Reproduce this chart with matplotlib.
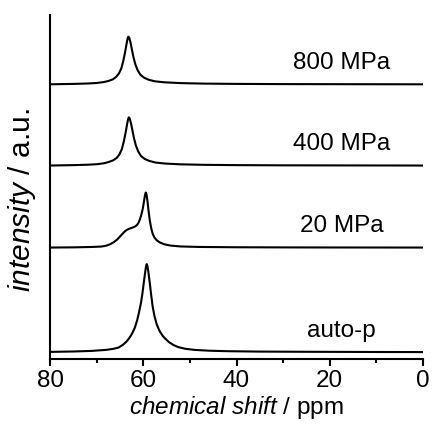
import numpy as np
import matplotlib
matplotlib.use('agg')
import matplotlib.pyplot as plt

plt.rcParams['font.family'] = ['Liberation Sans', 'DejaVu Sans']
plt.rcParams['mathtext.fontset'] = 'custom'
plt.rcParams['mathtext.rm'] = 'Liberation Sans'
plt.rcParams['mathtext.it'] = 'Liberation Sans:italic'

# 13C spectra, (shift in ppm, intensity in a.u. above baseline)
ppm_800 = [80, 75, 72, 70, 68.5, 67.5, 66.5, 65.8, 65.2, 64.7, 64.3, 63.9, 63.6,
           63.35, 63.2, 63.0, 62.7, 62.4, 62.1, 61.7, 61.2, 60.6, 59.8, 58.8,
           57.5, 55.5, 52, 47, 40, 30, 15, 0]
int_800 = [0.0, 0.4, 0.8, 1.3, 2.2, 3.3, 5.0, 7.5, 11, 16, 23, 32, 40,
           46, 47.6, 46.5, 41, 34, 27, 20, 14, 9.5, 6.5, 4.5,
           3.0, 2.0, 1.2, 0.7, 0.4, 0.2, 0.1, 0.0]

ppm_400 = [80, 75, 72, 70, 68.5, 67.5, 66.5, 65.7, 65.1, 64.6, 64.2, 63.8, 63.5,
           63.25, 63.1, 62.9, 62.6, 62.3, 62.0, 61.6, 61.1, 60.5, 59.7, 58.7,
           57.4, 55.4, 52, 47, 40, 30, 15, 0]
int_400 = [0.0, 0.4, 0.8, 1.3, 2.2, 3.4, 5.1, 7.6, 11.2, 16.3, 23.5, 32.5, 40.5,
           46.5, 48.2, 47, 41.5, 34.5, 27.5, 20.3, 14.2, 9.6, 6.6, 4.6,
           3.0, 2.0, 1.2, 0.7, 0.4, 0.2, 0.1, 0.0]

ppm_20 = [80, 75, 71, 69, 68, 67.1, 66.3, 65.6, 65.0, 64.4, 63.8, 63.2, 62.6,
          62.1, 61.7, 61.3, 61.0, 60.7, 60.4, 60.1, 59.85, 59.65, 59.47, 59.3,
          59.1, 58.85, 58.6, 58.3, 58.0, 57.6, 57.1, 56.4, 55.5, 54.2, 52, 48,
          40, 25, 0]
int_20 = [0.0, 0.2, 0.6, 1.0, 1.8, 3.3, 5.5, 8.0, 11, 14, 16.8, 18.5, 19.5,
          20.3, 21.2, 22.8, 25, 28.5, 33, 39, 46, 52, 55, 53,
          46.5, 36, 27, 19.5, 14, 10, 7.2, 5.0, 3.3, 2.0, 1.1, 0.6,
          0.3, 0.1, 0.0]

ppm_auto = [80, 75, 71, 68, 66.5, 65.3, 64.3, 63.6, 63.0, 62.4, 61.8, 61.3,
            60.9, 60.5, 60.2, 59.9, 59.6, 59.4, 59.25, 59.1, 58.9, 58.6, 58.3,
            58.0, 57.6, 57.1, 56.5, 55.8, 55.3, 54.5, 53.5, 52.5, 51, 49, 46,
            42, 35, 25, 10, 0]
int_auto = [0.2, 0.6, 1.2, 2.2, 3.2, 4.5, 7.5, 10.5, 14, 18.5, 24.5, 32,
            40, 49, 58, 69, 79.5, 86, 88, 86, 80, 69, 57,
            46, 36, 27.5, 21, 16, 13.5, 10, 7, 5, 3.3, 2.2, 1.4,
            0.9, 0.5, 0.3, 0.1, 0.0]

labels = ['800 MPa', '400 MPa', '20 MPa', 'auto-p']
spectra = [(ppm_800, int_800), (ppm_400, int_400), (ppm_20, int_20), (ppm_auto, int_auto)]
offsets = [274.7, 193.5, 111.5, 7.0]

fs = 17.5
lw = 1.5

fig = plt.figure(figsize=(4.33, 4.28), dpi=100)
ax = fig.add_axes([0.1155, 0.161, 0.8615, 0.804])

for (x, y), off, lbl in zip(spectra, offsets, labels):
    ax.plot(x, np.array(y) + off, color='k', lw=lw)
    ax.text(17.5, off + 15.5, lbl, fontsize=fs, ha='center', va='baseline')

ax.set_xlim(80, 0)
ax.set_ylim(0, 344)
ax.set_xticks([80, 60, 40, 20, 0])
ax.set_xticks([70, 50, 30, 10], minor=True)
ax.set_yticks([])
ax.spines['top'].set_visible(False)
ax.spines['right'].set_visible(False)
for s in ['left', 'bottom']:
    ax.spines[s].set_linewidth(lw)
ax.tick_params(which='major', axis='x', direction='out', length=5, width=lw,
               labelsize=fs, pad=3)
ax.tick_params(which='minor', axis='x', direction='out', length=3, width=lw)

ax.set_xlabel('$chemical\\ shift$ / ppm', fontsize=fs, labelpad=1)
# y label sits a little below the axes centre
fig.text(0.051, 0.533, '$intensity$ / a.u.', fontsize=21.5, rotation=90,
         ha='center', va='center')

fig.savefig('out.png', dpi=100)
